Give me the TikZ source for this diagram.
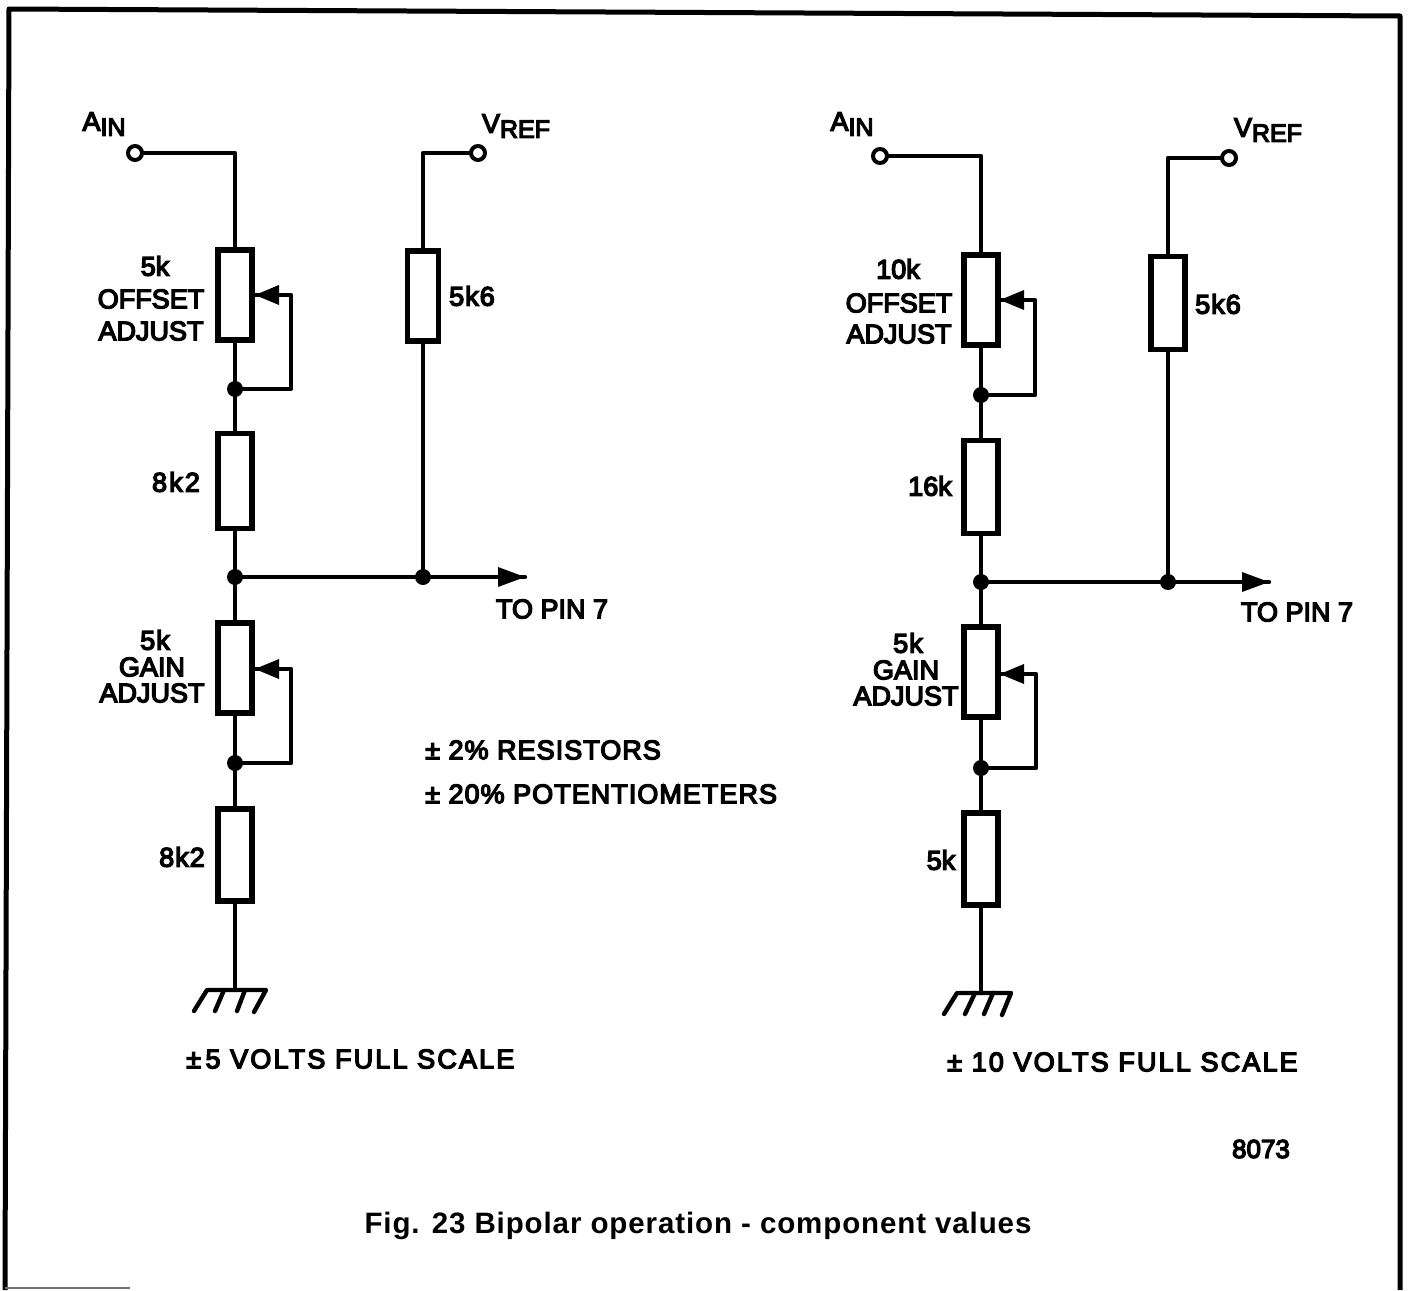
\documentclass[tikz,border=0pt]{standalone}
\usepackage{fontspec}
\setmainfont[FakeBold=5]{Liberation Sans}
\newfontfamily\capfont[LetterSpace=3]{Liberation Sans Bold}
\newfontfamily\spfont[FakeBold=5,LetterSpace=8]{Liberation Sans}
\newfontfamily\midfont[FakeBold=5,LetterSpace=3.8]{Liberation Sans}
\tikzset{
  x=1pt,y=-1pt,
  wire/.style={line width=4.4pt,line cap=round,line join=round},
  resbox/.style={draw,line width=5.5pt,minimum width=34pt,inner sep=0pt,fill=white},
  junct/.style={circle,fill=black,inner sep=0pt,minimum size=16pt},
  term/.style={circle,draw,line width=4pt,fill=white,inner sep=0pt,minimum size=14pt},
  lab/.style={inner sep=0pt,font=\fontsize{27}{27}\selectfont},
  framel/.style={line width=5pt,line join=round},
  faint/.style={line width=2pt,draw=black!55},
}
\newcommand{\subtxt}[2]{#1\raisebox{-5pt}{\fontsize{25}{25}\selectfont #2}}
\begin{document}
\begin{tikzpicture}
\useasboundingbox (0,0) rectangle (1410,1290);
\fill[white] (0,0) rectangle (1410,1290);
% frame
\coordinate (fa) at (9,9); \coordinate (fb) at (1400,16); \coordinate (fc) at (1400,1290);
\coordinate (fd) at (5,1290);\coordinate (fe) at (5,1288);\coordinate (ff) at (130,1288);
\draw[framel] (fd) -- (fa) -- (fb) -- (fc);
\draw[faint] (fe) -- (ff);
% ---------- left circuit ----------
\node[term] (la) at (135,153) {};
\node[term] (lv) at (478,153) {};
\coordinate (lat) at (235,153);
\coordinate (lvt) at (423,153);
\node[resbox,minimum height=90pt] (lp1) at (235,295) {};
\node[resbox,minimum width=31pt,minimum height=90pt] (lr5) at (423,296) {};
\node[junct] (lj1) at (235,389) {};
\node[resbox,minimum height=95pt] (lr1) at (235,481) {};
\node[junct] (lj2) at (235,577) {};
\node[junct] (lj3) at (423,577) {};
\coordinate (lout) at (525,577);
\node[resbox,minimum height=90pt] (lp2) at (235,668) {};
\node[junct] (lj4) at (235,763) {};
\node[resbox,minimum height=92pt] (lr2) at (235,855) {};
\coordinate (lg) at (235,990);
\coordinate (lw1) at (255,295); \coordinate (lw1c) at (291,295); \coordinate (lw1d) at (291,389);
\coordinate (lw2) at (255,669); \coordinate (lw2c) at (291,669); \coordinate (lw2d) at (291,763);
\draw[wire] (la) -- (lat) -- (lp1.north);
\draw[wire] (lp1.south) -- (lj1) -- (lr1.north);
\draw[wire] (lr1.south) -- (lj2) -- (lp2.north);
\draw[wire] (lp2.south) -- (lj4) -- (lr2.north);
\draw[wire] (lr2.south) -- (lg);
\draw[wire] (lv) -- (lvt) -- (lr5.north);
\draw[wire] (lr5.south) -- (lj3);
\draw[wire] (lj2) -- (lj3) -- (lout);
\draw[wire] (lw1) -- (lw1c) -- (lw1d) -- (lj1);
\draw[wire] (lw2) -- (lw2c) -- (lw2d) -- (lj4);
\fill[black] (lw1) -- ++(24,-10) -- ++(0,20) -- cycle;
\fill[black] (lw2) -- ++(24,-10) -- ++(0,20) -- cycle;
\fill[black] (lout) -- ++(-27,-10) -- ++(0,20) -- cycle;
% ground
\coordinate (lg1) at (207,990); \coordinate (lg2) at (266,990);
\coordinate (lg1b) at (194,1011);\coordinate (lga) at (224,990);\coordinate (lgab) at (215,1011);
\coordinate (lgc) at (245,990);\coordinate (lgcb) at (237,1011);\coordinate (lg2b) at (254,1012);
\draw[wire] (lg1b) -- (lg1) -- (lg2) -- (lg2b);
\draw[wire] (lga) -- (lgab);
\draw[wire] (lgc) -- (lgcb);
% labels
\node[lab] (tla) at (104,124) {\subtxt{A}{IN}};
\node[lab] (tlv) at (516,126) {\subtxt{V}{REF}};
\node[lab] (t1) at (155,266) {5k};
\node[lab] (t2) at (151,299) {OFFSET};
\node[lab] (t3) at (151,331) {ADJUST};
\node[lab] (t4) at (472,296) {\midfont 5k6};
\node[lab] (t5) at (176,482) {\spfont 8k2};
\node[lab] (t6) at (552,609) {TO PIN 7};
\node[lab] (t7) at (155,640) {\midfont 5k};
\node[lab] (t8) at (152,667) {GAIN};
\node[lab] (t9) at (152,693) {ADJUST};
\node[lab] (t10) at (182,857) {\midfont 8k2};
\node[lab,anchor=west] (t11) at (425,750) {\midfont ± 2\%\ RESISTORS};
\node[lab,anchor=west] (t12) at (425,794) {\midfont ± 20\%\ POTENTIOMETERS};
\node[lab,anchor=west] (t13) at (186,1059) {\spfont ±\,5 VOLTS FULL SCALE};
% ---------- right circuit ----------
\node[term] (ra) at (880,156) {};
\node[term] (rv) at (1229,158) {};
\coordinate (rat) at (981,156);
\coordinate (rvt) at (1168,158);
\node[resbox,minimum height=90pt] (rp1) at (981,300) {};
\node[resbox,minimum height=93pt] (rr5) at (1168,303) {};
\node[junct] (rj1) at (981,395) {};
\node[resbox,minimum height=93pt] (rr1) at (981,487) {};
\node[junct] (rj2) at (981,582) {};
\node[junct] (rj3) at (1168,582) {};
\coordinate (rout) at (1269,582);
\node[resbox,minimum height=90pt] (rp2) at (981,672) {};
\node[junct] (rj4) at (981,768) {};
\node[resbox,minimum height=92pt] (rr2) at (981,859) {};
\coordinate (rg) at (981,993);
\coordinate (rw1) at (1000,300); \coordinate (rw1c) at (1035,300); \coordinate (rw1d) at (1035,395);
\coordinate (rw2) at (1000,674); \coordinate (rw2c) at (1036,674); \coordinate (rw2d) at (1036,768);
\draw[wire] (ra) -- (rat) -- (rp1.north);
\draw[wire] (rp1.south) -- (rj1) -- (rr1.north);
\draw[wire] (rr1.south) -- (rj2) -- (rp2.north);
\draw[wire] (rp2.south) -- (rj4) -- (rr2.north);
\draw[wire] (rr2.south) -- (rg);
\draw[wire] (rv) -- (rvt) -- (rr5.north);
\draw[wire] (rr5.south) -- (rj3);
\draw[wire] (rj2) -- (rj3) -- (rout);
\draw[wire] (rw1) -- (rw1c) -- (rw1d) -- (rj1);
\draw[wire] (rw2) -- (rw2c) -- (rw2d) -- (rj4);
\fill[black] (rw1) -- ++(24,-10) -- ++(0,20) -- cycle;
\fill[black] (rw2) -- ++(24,-10) -- ++(0,20) -- cycle;
\fill[black] (rout) -- ++(-27,-10) -- ++(0,20) -- cycle;
\coordinate (rg1) at (957,993); \coordinate (rg2) at (1011,993);
\coordinate (rg1b) at (944,1014);\coordinate (rga) at (975,993);\coordinate (rgab) at (965,1014);
\coordinate (rgc) at (993,993);\coordinate (rgcb) at (984,1014);\coordinate (rg2b) at (1002,1015);
\draw[wire] (rg1b) -- (rg1) -- (rg2) -- (rg2b);
\draw[wire] (rga) -- (rgab);
\draw[wire] (rgc) -- (rgcb);
\node[lab] (r1) at (852,124) {\subtxt{A}{IN}};
\node[lab] (r2) at (1268,130) {\subtxt{V}{REF}};
\node[lab] (r3) at (898,269) {10k};
\node[lab] (r4) at (899,303) {OFFSET};
\node[lab] (r5) at (899,334) {ADJUST};
\node[lab] (r6) at (1218,304) {\midfont 5k6};
\node[lab] (r7) at (930,486) {16k};
\node[lab] (r8) at (1297,612) {TO PIN 7};
\node[lab] (r9) at (908,643) {\midfont 5k};
\node[lab] (r10) at (906,670) {GAIN};
\node[lab] (r11) at (906,696) {ADJUST};
\node[lab] (r12) at (941,860) {5k};
\node[lab,anchor=west] (r13) at (947,1062) {\spfont ± 10 VOLTS FULL SCALE};
\node[inner sep=0pt,font=\fontsize{26}{26}\selectfont] (r14) at (1261,1149) {8073};
\node[inner sep=0pt,font=\fontsize{29.5}{29.5}\selectfont\capfont] (cap) at (698,1226) {Fig. 23 Bipolar operation - component values};
\end{tikzpicture}
\end{document}
